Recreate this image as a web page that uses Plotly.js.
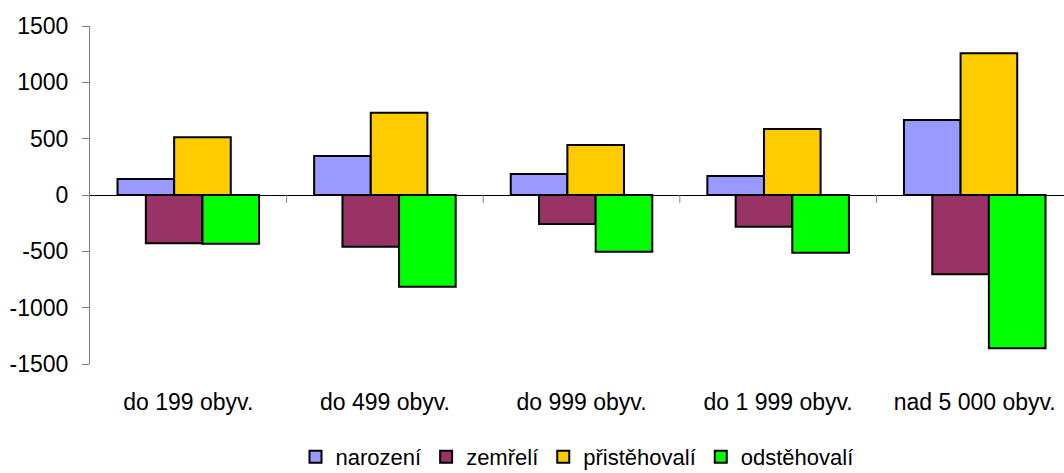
<!DOCTYPE html>
<html>
<head>
<meta charset="utf-8">
<script src="https://cdn.plot.ly/plotly-3.0.1.min.js"></script>
<style>html,body{margin:0;padding:0;background:#fff;}#chart{width:1064px;height:473px;}</style>
</head>
<body>
<div id="chart"></div>
<script>
const categories = ["do 199 obyv.", "do 499 obyv.", "do 999 obyv.", "do 1 999 obyv.", "nad 5 000 obyv."];
const seriesNames = ["narození", "zemřelí", "přistěhovalí", "odstěhovalí"];
const narozeni = [142, 346, 186, 169, 666];
const zemreli = [-429, -459, -257, -281, -704];
const pristehovali = [512, 730, 444, 586, 1258];
const odstehovali = [-432, -814, -503, -512, -1361];
const yTicks = [-1500, -1000, -500, 0, 500, 1000, 1500];

const colors = ["#9999FF", "#993366", "#FFCC00", "#00FF00"];
const values = [narozeni, zemreli, pristehovali, odstehovali];
const barW = 0.288;
const offsets = [-0.36, -0.216, -0.072, 0.072];

const traces = values.map((v, i) => ({
  type: "bar",
  name: seriesNames[i],
  x: categories,
  y: v,
  width: barW,
  offset: offsets[i],
  marker: {color: colors[i], line: {color: "#000000", width: 2}},
  hoverinfo: "x+y+name"
}));

const shapes = [];
for (let i = 1; i < categories.length; i++) {
  shapes.push({
    type: "line", xref: "x", yref: "y",
    x0: i - 0.5, x1: i - 0.5,
    ysizemode: "pixel", yanchor: 0, y0: 0, y1: -8,
    line: {color: "#808080", width: 1}
  });
}

const font = {family: "Liberation Sans, Arial, sans-serif", size: 23, color: "#000"};
const legendFont = {family: "Liberation Sans, Arial, sans-serif", size: 22, color: "#000"};

const layout = {
  width: 1064, height: 473,
  margin: {l: 90, r: 0, t: 26, b: 109, pad: 0, autoexpand: false},
  paper_bgcolor: "#fff", plot_bgcolor: "#fff",
  font: font,
  barmode: "overlay",
  showlegend: true,
  legend: {
    orientation: "h", x: 0.5, xanchor: "center", y: -0.275, yanchor: "middle",
    font: legendFont, itemwidth: 30, traceorder: "normal",
    bgcolor: "rgba(0,0,0,0)"
  },
  xaxis: {
    type: "category",
    range: [-0.5, 4.454],
    showline: false, showgrid: false, zeroline: false,
    ticks: "", ticklabelstandoff: 22,
    tickfont: font, fixedrange: true, automargin: false
  },
  yaxis: {
    range: [-1500, 1500],
    tickmode: "array", tickvals: yTicks, ticktext: yTicks.map(String),
    showline: true, linecolor: "#808080", linewidth: 1,
    ticks: "outside", ticklen: 7, tickcolor: "#808080",
    showgrid: false,
    zeroline: true, zerolinecolor: "#000000", zerolinewidth: 1,
    tickfont: font, ticklabelstandoff: 9, fixedrange: true, automargin: false
  },
  shapes: shapes
};

Plotly.newPlot("chart", traces, layout, {displayModeBar: false, staticPlot: true});
</script>
</body>
</html>
